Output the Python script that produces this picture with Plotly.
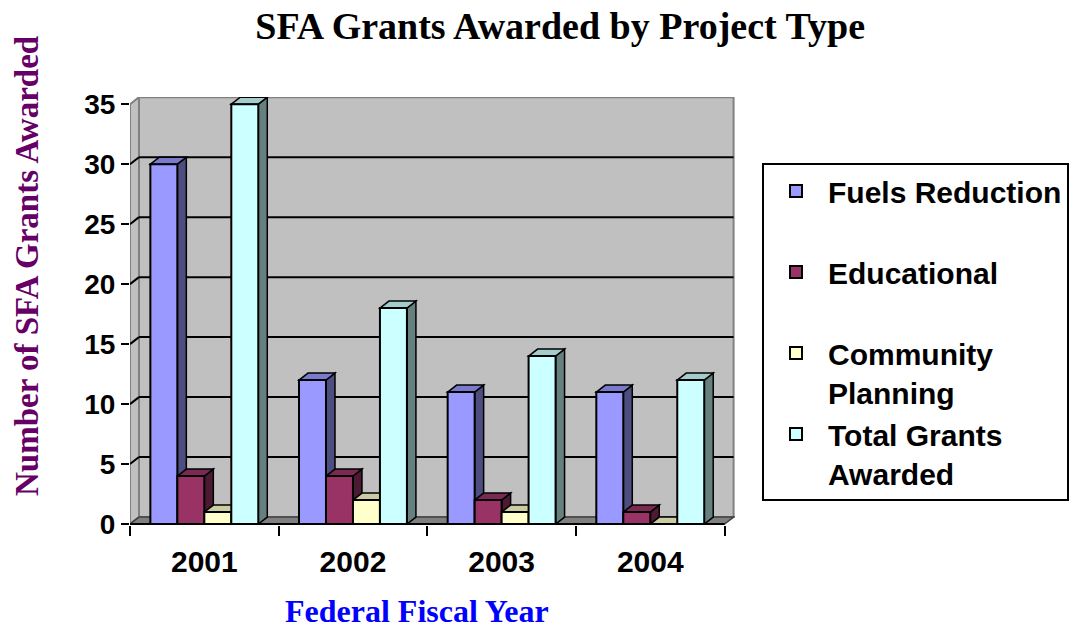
import plotly.graph_objects as go

years = ["2001", "2002", "2003", "2004"]
series_names = ["Fuels Reduction<br> ", "Educational<br> ", "Community<br>Planning", "Total Grants<br>Awarded"]
fuels = [30, 12, 11, 11]
educational = [4, 4, 2, 1]
community = [1, 2, 1, 0]
total = [35, 18, 14, 12]
y_ticks = [0, 5, 10, 15, 20, 25, 30, 35]

values = [fuels, educational, community, total]
front = ["#9999FF", "#993366", "#FFFFCC", "#CCFFFF"]
top_c = ["#7A7ACC", "#7A2952", "#CCCCA3", "#A3CCCC"]
side_c = ["#4D4D80", "#4D1A33", "#808066", "#668080"]

G = 0.726          # group width in category units
w = G / 4          # bar width
dx = 9 / 148.75    # depth offset (x, data units)
dy = 7 / 12.0      # depth offset (y, data units)
ymax = 35
xs = list(range(len(years)))

fig = go.Figure()
shapes = []

def path(pts):
    return "M " + " L ".join(f"{x},{y}" for x, y in pts) + " Z"

# walls and floor
shapes.append(dict(type="path", layer="below",
                   path=path([(-0.5 + dx, dy), (3.5 + dx, dy), (3.5 + dx, ymax + dy), (-0.5 + dx, ymax + dy)]),
                   fillcolor="#C0C0C0", line=dict(color="#808080", width=2)))
shapes.append(dict(type="path", layer="below",
                   path=path([(-0.5, 0), (-0.5 + dx, dy), (-0.5 + dx, ymax + dy), (-0.5, ymax)]),
                   fillcolor="#C0C0C0", line=dict(color="#808080", width=2)))
shapes.append(dict(type="path", layer="below",
                   path=path([(-0.5, 0), (3.5, 0), (3.5 + dx, dy), (-0.5 + dx, dy)]),
                   fillcolor="#808080", line=dict(color="#404040", width=1.5)))
for k in y_ticks[1:-1]:
    shapes.append(dict(type="line", layer="below", x0=-0.5 + dx, x1=3.5 + dx, y0=k + dy, y1=k + dy,
                       line=dict(color="black", width=2)))
    shapes.append(dict(type="line", layer="below", x0=-0.5, x1=-0.5 + dx, y0=k, y1=k + dy,
                       line=dict(color="black", width=2)))

# 3D top & side faces of bars
for c in xs:
    for i in range(4):
        v = values[i][c]
        xl = c - G / 2 + i * w
        xr = xl + w
        shapes.append(dict(type="path", layer="below",
                           path=path([(xr, 0), (xr + dx, dy), (xr + dx, v + dy), (xr, v)]),
                           fillcolor=side_c[i], line=dict(color="black", width=1.5)))
        shapes.append(dict(type="path", layer="below",
                           path=path([(xl, v), (xl + dx, v + dy), (xr + dx, v + dy), (xr, v)]),
                           fillcolor=top_c[i], line=dict(color="black", width=1.5)))

# x axis line
shapes.append(dict(type="line", layer="above", x0=-0.5, x1=3.5, y0=0, y1=0,
                   line=dict(color="black", width=2)))

for i in range(4):
    fig.add_trace(go.Bar(
        x=xs, y=values[i], name=series_names[i],
        width=w, offset=-G / 2 + i * w,
        marker=dict(color=front[i], line=dict(color="black", width=2)),
        legendgroup=f"g{i}",
    ))

sans = "Liberation Sans, Arial, sans-serif"
serif = "Liberation Serif, Times New Roman, serif"

fig.update_layout(
    width=1075, height=630,
    barmode="overlay",
    paper_bgcolor="white", plot_bgcolor="white",
    margin=dict(l=130, r=340, t=97, b=105, autoexpand=False),
    shapes=shapes,
    title=dict(text="SFA Grants Awarded by Project Type",
               font=dict(family=serif, size=38, color="black", weight="bold"),
               x=0.711, xref="paper", xanchor="center", y=1 - 26 / 630, yref="container", yanchor="middle"),
    xaxis=dict(range=[-0.5, 3.57], tickvals=xs, ticktext=years, ticks="",
               showgrid=False, zeroline=False, showline=False,
               tickfont=dict(family=sans, size=30, color="black", weight="bold"),
               ticklabelstandoff=16,
               minor=dict(tickmode="array", tickvals=[-0.5, 0.5, 1.5, 2.5, 3.5], ticks="outside",
                          ticklen=10, tickwidth=2, tickcolor="black", showgrid=False)),
    yaxis=dict(range=[-0.08, 35.6], tickvals=y_ticks, ticks="outside", ticklen=8, tickwidth=2,
               tickcolor="black", showgrid=False, zeroline=False, showline=False,
               tickfont=dict(family=sans, size=28, color="black", weight="bold")),
    legend=dict(x=(762 - 130) / 605, xanchor="left", y=(525 - 163) / 428, yanchor="top",
                bordercolor="black", borderwidth=2, bgcolor="white",
                font=dict(family=sans, size=30, color="black", weight="bold"),
                traceorder="grouped", tracegroupgap=0, valign="top", itemwidth=54),
    annotations=[
        dict(text="Number of SFA Grants Awarded", textangle=-90, xref="paper", yref="paper",
             x=(27 - 130) / 605, y=(525 - 266) / 428, xanchor="center", yanchor="middle", showarrow=False,
             font=dict(family=serif, size=33, color="#660066", weight="bold")),
        dict(text="Federal Fiscal Year", xref="paper", yref="paper",
             x=(417 - 130) / 605, y=(525 - 611) / 428, xanchor="center", yanchor="middle", showarrow=False,
             font=dict(family=serif, size=32, color="#0000FF", weight="bold")),
    ],
)

fig.write_html("out.html", config={"displayModeBar": False},
               post_script="document.body.style.margin='0';document.body.style.overflow='hidden';")
